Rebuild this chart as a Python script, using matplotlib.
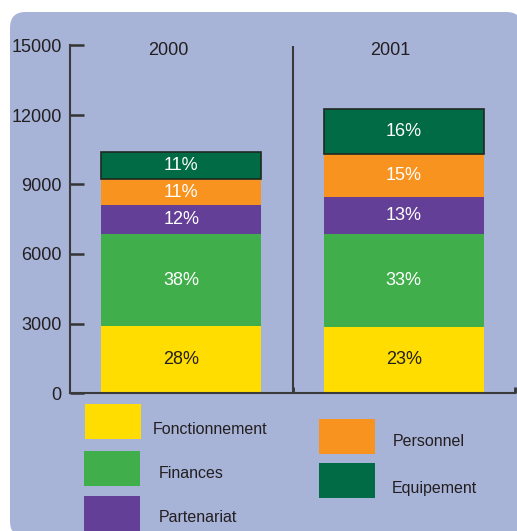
import matplotlib
matplotlib.use("Agg")
import matplotlib.pyplot as plt
from matplotlib.patches import FancyBboxPatch, Rectangle

# données
years = ['2000', '2001']
categories = ['Fonctionnement', 'Finances', 'Partenariat', 'Personnel', 'Equipement']
values = {
    'Fonctionnement': [2900, 2850],
    'Finances': [3950, 4000],
    'Partenariat': [1250, 1600],
    'Personnel': [1150, 1850],
    'Equipement': [1150, 1950],
}
pct_labels = {
    'Fonctionnement': ['28%', '23%'],
    'Finances': ['38%', '33%'],
    'Partenariat': ['12%', '13%'],
    'Personnel': ['11%', '15%'],
    'Equipement': ['11%', '16%'],
}
yticks = [0, 3000, 6000, 9000, 12000, 15000]

colors = {
    'Fonctionnement': '#ffdd00',
    'Finances': '#40ae4b',
    'Partenariat': '#643f98',
    'Personnel': '#f7931e',
    'Equipement': '#006b45',
}
bg = '#a8b3d8'
txt = '#231f20'

plt.rcParams['font.family'] = ['Liberation Sans', 'DejaVu Sans']

W, H = 517, 531
fig = plt.figure(figsize=(W / 100, H / 100), dpi=100)
fig.patch.set_facecolor('white')

# panneau bleu aux coins arrondis
panel = FancyBboxPatch((10 / W, 1 - 537 / H), 512 / W, 525 / H,
                       boxstyle='round,pad=0,rounding_size=0.03',
                       transform=fig.transFigure, facecolor=bg, edgecolor='none',
                       zorder=-10)
fig.patches.append(panel)

ax = fig.add_axes([70 / W, 1 - 393 / H, 445 / W, (393 - 45.5) / H])
ax.set_facecolor('none')
x = list(range(len(years)))
bottoms = [0] * len(years)
for cat in categories:
    vals = values[cat]
    ec = '#1f2a22' if cat == 'Equipement' else 'none'
    ax.bar(x, vals, width=0.72, bottom=bottoms, color=colors[cat],
           edgecolor=ec, linewidth=1.2 if cat == 'Equipement' else 0)
    for i, v in enumerate(vals):
        c = txt if cat == 'Fonctionnement' else 'white'
        ax.text(x[i], bottoms[i] + v / 2, pct_labels[cat][i], ha='center',
                va='center', fontsize=13, color=c)
    bottoms = [b + v for b, v in zip(bottoms, vals)]

ax.set_xlim(-0.5, 1.5)
ax.set_ylim(0, 15000)
ax.set_yticks(yticks)
ax.set_yticklabels([str(t) for t in yticks], fontsize=13, color=txt)
ax.tick_params(axis='y', direction='in', length=10, width=1.8, color='#333333', pad=6)
ax.set_xticks([0.5, 1.5])
ax.set_xticklabels([])
ax.tick_params(axis='x', direction='in', length=4, width=2, color='#333333')
for s in ['top', 'right']:
    ax.spines[s].set_visible(False)
for s in ['left', 'bottom']:
    ax.spines[s].set_color('#3a3a3a')
    ax.spines[s].set_linewidth(1.5)
ax.axvline(0.5, ymin=0, ymax=0.995, color='#3a3a3a', linewidth=1.5)

for i, yr in enumerate(years):
    ax.text(x[i] - 0.06, 14800, yr, ha='center', va='center', fontsize=13, color=txt)

# légende manuelle
leg_pos = {
    'Fonctionnement': (85, 404, 153, 429),
    'Finances': (84, 451, 159, 474),
    'Partenariat': (84, 496, 159, 518),
    'Personnel': (319, 419, 393, 442),
    'Equipement': (319, 463, 392, 488),
}
for cat in categories:
    px, py, tx, ty = leg_pos[cat]
    fig.patches.append(Rectangle((px / W, 1 - (py + 35) / H), 56 / W, 35 / H,
                                 transform=fig.transFigure, facecolor=colors[cat],
                                 edgecolor='none'))
    fig.text(tx / W, 1 - ty / H, cat, ha='left', va='center', fontsize=11.5, color=txt)

fig.savefig('out.png', dpi=100, facecolor='white')
